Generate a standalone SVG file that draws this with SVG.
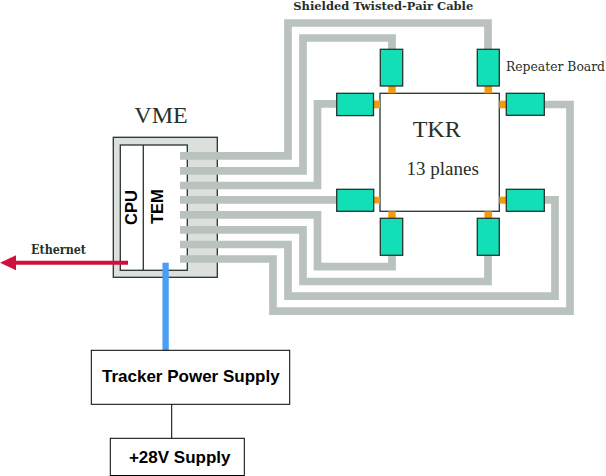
<svg xmlns="http://www.w3.org/2000/svg" width="606" height="476" viewBox="0 0 606 476">
<style>
.cable{fill:none;stroke:#b9c2bd;stroke-width:7.7;stroke-linejoin:miter;stroke-linecap:butt}
.rep{fill:#12dfb7;stroke:#27332d;stroke-width:1.3}
.org{fill:#f39a0e;stroke:none}
.box{fill:#fff;stroke:#27332d;stroke-width:1.3}
.serif{font-family:"Liberation Serif","Times New Roman",serif;fill:#26302a}
.slab{font-family:"DejaVu Serif","Liberation Serif",serif;fill:#26302a}
.sans{font-family:"Liberation Sans",Arial,sans-serif;font-weight:bold;fill:#000}
</style>
<rect width="606" height="476" fill="#fff"/>
<text class="slab" x="293.3" y="10" font-size="11" font-weight="bold" textLength="180" lengthAdjust="spacingAndGlyphs">Shielded Twisted-Pair Cable</text>
<text class="slab" x="506" y="70.7" font-size="12.5" textLength="99" lengthAdjust="spacingAndGlyphs">Repeater Board</text>
<text class="slab" x="31" y="254" font-size="12" font-weight="bold" textLength="55" lengthAdjust="spacingAndGlyphs">Ethernet</text>
<g id="vme">
<text class="serif" x="161" y="123" font-size="24" text-anchor="middle">VME</text>
<rect x="113.3" y="137.3" width="104" height="140" fill="#dbe0dd" stroke="#27332d" stroke-width="1.3"/>
<rect x="120.3" y="145" width="67" height="125.3" fill="#fff" stroke="#27332d" stroke-width="1.3"/>
<line x1="143.3" y1="145" x2="143.3" y2="270.3" stroke="#27332d" stroke-width="1.3"/>
<text class="sans" font-size="16.5" text-anchor="middle" transform="translate(136.6,207.5) rotate(-90)">CPU</text>
<text class="sans" font-size="16.5" text-anchor="middle" transform="translate(163.3,206.7) rotate(-90)">TEM</text>
</g>
<g id="connectors">
<polyline class="cable" points="180,155.8 288,155.8 288,23 488,23 488,52"/>
<polyline class="cable" points="180,170.8 303,170.8 303,38 392,38 392,52"/>
<polyline class="cable" points="180,185.5 317.5,185.5 317.5,103.8 340,103.8"/>
<polyline class="cable" points="180,199.8 340,199.8"/>
<polyline class="cable" points="180,214.8 317.5,214.8 317.5,266.7 392,266.7 392,252"/>
<polyline class="cable" points="180,229.8 303,229.8 303,281.5 488,281.5 488,252"/>
<polyline class="cable" points="180,244.5 288,244.5 288,296.2 555,296.2 555,199.8 540,199.8"/>
<polyline class="cable" points="180,259 273,259 273,311.2 570,311.2 570,104.5 540,104.5"/>
<line x1="128" y1="262.7" x2="14" y2="262.7" stroke="#d0103c" stroke-width="4"/>
<polygon points="0,262.7 16,255.2 16,270.2" fill="#d0103c"/>
<line x1="165.6" y1="262.7" x2="165.6" y2="351" stroke="#4a9ff2" stroke-width="6.3"/>
<line x1="171.7" y1="404.3" x2="171.7" y2="438.3" stroke="#000" stroke-width="1"/>
</g>
<g id="tkr">
<rect class="box" x="380" y="93.3" width="119.3" height="118"/>
<text class="serif" x="436.7" y="137.3" font-size="24" text-anchor="middle">TKR</text>
<text class="serif" x="442.7" y="175" font-size="19" text-anchor="middle">13 planes</text>
</g>
<g id="rep-top-left"><rect class="org" x="388.3" y="86" width="7.4" height="7.3"/><rect class="rep" x="380.3" y="49.3" width="22.4" height="36.7"/></g>
<g id="rep-top-right"><rect class="org" x="484.5" y="86" width="7.6" height="7.3"/><rect class="rep" x="477.3" y="49.3" width="22" height="36.7"/></g>
<g id="rep-left-top"><rect class="org" x="373.5" y="100.5" width="6.5" height="7.8"/><rect class="rep" x="336.7" y="93.3" width="36.8" height="22.3"/></g>
<g id="rep-left-bottom"><rect class="org" x="373.7" y="196.7" width="6.3" height="6.8"/><rect class="rep" x="336.7" y="189.3" width="37" height="22"/></g>
<g id="rep-right-top"><rect class="org" x="499.3" y="100.7" width="7" height="7.6"/><rect class="rep" x="506.3" y="93.3" width="38" height="22"/></g>
<g id="rep-right-bottom"><rect class="org" x="499.3" y="196.7" width="7" height="7"/><rect class="rep" x="506.3" y="189.3" width="38" height="22"/></g>
<g id="rep-bottom-left"><rect class="org" x="388.3" y="211.3" width="7.4" height="7"/><rect class="rep" x="380.3" y="218.3" width="22.4" height="37"/></g>
<g id="rep-bottom-right"><rect class="org" x="484.5" y="211.3" width="7.6" height="7"/><rect class="rep" x="477.3" y="218.3" width="22" height="37"/></g>
<g id="tracker-power-supply">
<rect x="91.3" y="350.3" width="198.4" height="54" fill="#fff" stroke="#000" stroke-width="1"/>
<text class="sans" x="190.8" y="381.7" font-size="17" text-anchor="middle">Tracker Power Supply</text>
</g>
<g id="supply-28v">
<rect x="110.3" y="438.3" width="134" height="37.2" fill="#fff" stroke="#000" stroke-width="1"/>
<text class="sans" x="179.7" y="462.7" font-size="17" text-anchor="middle">+28V Supply</text>
</g>
</svg>
